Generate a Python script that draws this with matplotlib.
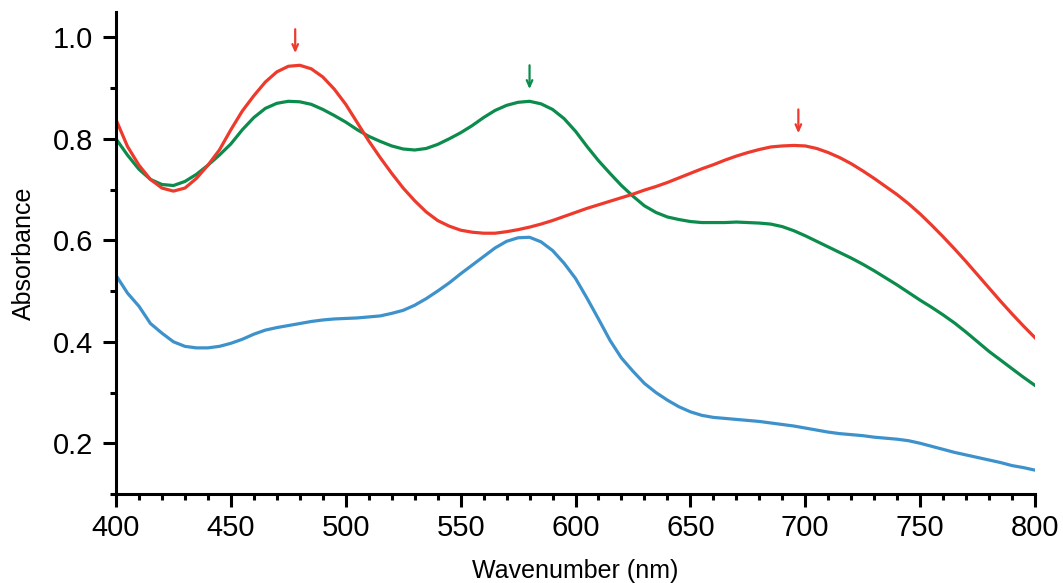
import matplotlib
matplotlib.use("Agg")
import matplotlib.pyplot as plt
from matplotlib.ticker import MultipleLocator
import numpy as np

plt.rcParams['font.family'] = ['Liberation Sans', 'DejaVu Sans']

wavelength = np.arange(400, 801, 5)

red = [0.838, 0.785, 0.748, 0.720, 0.703, 0.697, 0.703, 0.722, 0.748, 0.778,
       0.818, 0.855, 0.885, 0.912, 0.932, 0.943, 0.945, 0.938, 0.922, 0.898,
       0.868, 0.832, 0.796, 0.763, 0.732, 0.703, 0.678, 0.656, 0.639, 0.628,
       0.620, 0.616, 0.614, 0.614, 0.617, 0.621, 0.626, 0.632, 0.639, 0.647,
       0.655, 0.663, 0.670, 0.677, 0.684, 0.691, 0.699, 0.706, 0.714, 0.723,
       0.732, 0.741, 0.749, 0.758, 0.766, 0.773, 0.779, 0.784, 0.786, 0.787,
       0.786, 0.781, 0.773, 0.763, 0.751, 0.737, 0.722, 0.706, 0.690, 0.672,
       0.652, 0.630, 0.607, 0.583, 0.558, 0.532, 0.506, 0.480, 0.455, 0.431,
       0.408]

green = [0.800, 0.768, 0.740, 0.720, 0.710, 0.708, 0.716, 0.730, 0.748, 0.768,
         0.790, 0.818, 0.842, 0.860, 0.870, 0.874, 0.873, 0.868, 0.858, 0.846,
         0.833, 0.818, 0.805, 0.795, 0.786, 0.780, 0.778, 0.781, 0.789, 0.800,
         0.812, 0.826, 0.842, 0.856, 0.866, 0.872, 0.874, 0.869, 0.858, 0.840,
         0.815, 0.785, 0.757, 0.732, 0.708, 0.687, 0.668, 0.655, 0.646, 0.641,
         0.637, 0.635, 0.635, 0.635, 0.636, 0.635, 0.634, 0.632, 0.627, 0.619,
         0.609, 0.598, 0.587, 0.576, 0.565, 0.553, 0.540, 0.526, 0.512, 0.497,
         0.482, 0.468, 0.453, 0.437, 0.419, 0.400, 0.381, 0.364, 0.347, 0.330,
         0.314]

blue = [0.531, 0.496, 0.470, 0.436, 0.417, 0.400, 0.391, 0.388, 0.388, 0.391,
        0.397, 0.405, 0.415, 0.423, 0.428, 0.432, 0.436, 0.440, 0.443, 0.445,
        0.446, 0.447, 0.449, 0.451, 0.456, 0.462, 0.472, 0.485, 0.500, 0.516,
        0.534, 0.551, 0.568, 0.585, 0.598, 0.605, 0.606, 0.597, 0.580, 0.555,
        0.525, 0.486, 0.445, 0.403, 0.368, 0.342, 0.318, 0.300, 0.285, 0.272,
        0.262, 0.255, 0.251, 0.249, 0.247, 0.245, 0.243, 0.240, 0.237, 0.234,
        0.230, 0.226, 0.222, 0.219, 0.217, 0.215, 0.212, 0.210, 0.208, 0.205,
        0.200, 0.194, 0.188, 0.182, 0.177, 0.172, 0.167, 0.162, 0.156, 0.152,
        0.147]

# peak markers: (wavelength, absorbance at peak, colour)
peaks = [(478, 0.945, 'red'), (580, 0.874, 'green'), (697, 0.787, 'red')]

colors = {'red': '#EE3A2C', 'green': '#0B8C4C', 'blue': '#3E92CC'}

fig = plt.figure(figsize=(10.63, 5.83), dpi=100)
ax = fig.add_axes([116 / 1063, 1 - 494 / 583, 919 / 1063, 482 / 583])

ax.plot(wavelength, blue, color=colors['blue'], linewidth=2.3)
ax.plot(wavelength, green, color=colors['green'], linewidth=2.3)
ax.plot(wavelength, red, color=colors['red'], linewidth=2.3)

for x, y, c in peaks:
    ax.annotate("", xy=(x, y + 0.024), xytext=(x, y + 0.071),
                arrowprops=dict(arrowstyle="->,head_length=0.45,head_width=0.2",
                                color=colors[c], lw=1.6, shrinkA=0, shrinkB=0))

ax.set_xlim(400, 800)
ax.set_ylim(0.1, 1.05)
ax.xaxis.set_major_locator(MultipleLocator(50))
ax.xaxis.set_minor_locator(MultipleLocator(10))
ax.yaxis.set_minor_locator(MultipleLocator(0.1))
ax.set_yticks([0.2, 0.4, 0.6, 0.8, 1.0])
ax.set_yticklabels(["0.2", "0.4", "0.6", "0.8", "1.0"])

for side in ["top", "right"]:
    ax.spines[side].set_visible(False)
for side in ["left", "bottom"]:
    ax.spines[side].set_linewidth(2.2)

ax.tick_params(axis="both", which="major", length=9.5, width=2.2, labelsize=21)
ax.tick_params(axis="both", which="minor", length=4.5, width=2.2)
ax.tick_params(axis="y", which="major", pad=7)
ax.tick_params(axis="x", which="major", pad=5)

ax.set_xlabel("Wavenumber (nm)", fontsize=18, labelpad=12)
ax.set_ylabel("Absorbance", fontsize=18, labelpad=12)

fig.savefig("out.png", dpi=100)
